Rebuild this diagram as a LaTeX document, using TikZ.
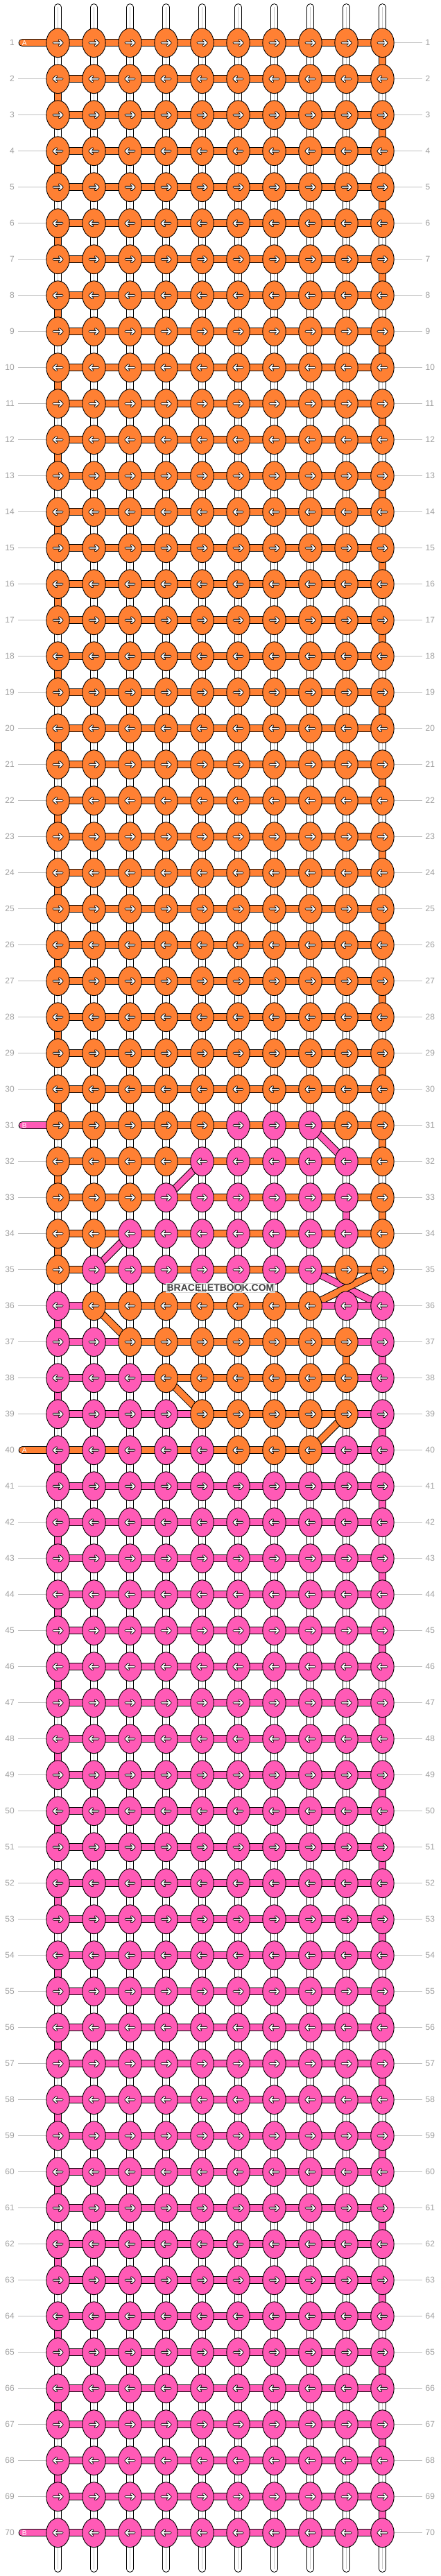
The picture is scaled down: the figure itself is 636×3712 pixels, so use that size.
\documentclass[tikz,border=0pt]{standalone}
\usepackage{fontspec}
\newfontfamily\lab{Liberation Sans}
\usetikzlibrary{shapes.geometric}
\definecolor{O}{RGB}{255,128,51}
\definecolor{P}{RGB}{255,90,182}
\definecolor{labgray}{RGB}{160,160,160}
\definecolor{linegray}{RGB}{192,192,192}
\definecolor{midgray}{RGB}{200,200,200}
\definecolor{wmgray}{RGB}{68,68,68}
\newcommand{\mixk}[2]{\foreach \kc [count=\ci] in {#2}{\node[knot, fill=\kc] (k-#1-\ci) at (p-#1-\ci) {};}}
\newcommand{\mixh}[2]{\foreach \kc [count=\ci] in {#2}{\pgfmathtruncatemacro\cn{\ci+1}\draw[hband=\kc] (p-#1-\ci) -- (p-#1-\cn);}}
\begin{document}
\begin{tikzpicture}[x=1pt,y=-1pt,
  knot/.style={ellipse, draw=black, line width=0.9pt, minimum width=33.4pt, minimum height=41.8pt, inner sep=0pt},
  hband/.style={draw=black, line width=1pt, double=#1, double distance=9pt},
  vcol/.style={draw=black, line width=1pt, double=#1, double distance=8.3pt},
  vwhite/.style={draw=black, line width=1pt, double=white, double distance=8.3pt},
  vmid/.style={draw=midgray, line width=0.8pt},
  arrowb/.style={draw=black, line width=3.6pt, line cap=round, line join=round},
  arroww/.style={draw=white, line width=1.7pt, line cap=round, line join=round},
  lbl/.style={font=\lab\fontsize{12}{14}\selectfont, text=labgray, inner sep=0pt},
  lblline/.style={draw=linegray, line width=0.9pt},
  tailtxt/.style={font=\lab\fontsize{10}{12}\selectfont, text=white, inner sep=0pt},
]
\fill[white] (0,0) rectangle (636,3712);
\useasboundingbox (0,0) rectangle (636,3712);
% grid coordinates
\foreach \ri in {1,...,70}{\foreach \ci in {1,...,10}{%
  \coordinate (p-\ri-\ci) at ({83.5+52*(\ci-1)},{61.7+52*(\ri-1)});}}
% top and bottom thread tails
\foreach \ci in {1,...,10}{%
  \coordinate (top-\ci) at ({83.5+52*(\ci-1)},10.3);
  \coordinate (bot-\ci) at ({83.5+52*(\ci-1)},3701.7);
  \draw[vwhite, line cap=round] (top-\ci) -- (p-1-\ci);
  \draw[vmid] (top-\ci) -- (p-1-\ci);
  \draw[vwhite, line cap=round] (p-70-\ci) -- (bot-\ci);
  \draw[vmid] (p-70-\ci) -- (bot-\ci);
}
% vertical connectors
\foreach \ri in {1,...,69}{%
  \pgfmathtruncatemacro\rn{\ri+1}%
  \ifnum\ri<35 \def\ec{O}\else\def\ec{P}\fi
  \foreach \ci in {1,...,10}{%
    \def\vc{W}%
    \ifnum\ci=1 \ifodd\ri\else\let\vc\ec\fi\fi
    \ifnum\ci=10 \ifodd\ri\let\vc\ec\fi\fi
    \ifnum\ri=35 \ifnum\ci=10 \def\vc{W}\fi\fi
    \ifnum\ri=33 \ifnum\ci=9 \def\vc{P}\fi\fi
    \ifnum\ri=37 \ifnum\ci=9 \def\vc{O}\fi\fi
    \if W\vc
      \draw[vwhite] (p-\ri-\ci) -- (p-\rn-\ci);
      \draw[vmid] (p-\ri-\ci) -- (p-\rn-\ci);
    \else
      \draw[vcol=\vc] (p-\ri-\ci) -- (p-\rn-\ci);
    \fi
  }
}
% diagonals
\draw[hband=P] (p-31-8) -- (p-32-9);
\draw[hband=P] (p-32-5) -- (p-33-4);
\draw[hband=P] (p-34-3) -- (p-35-2);
\draw[hband=P] (p-35-8) -- (p-36-10);
\draw[hband=O] (p-35-10) -- (p-36-8);
\draw[hband=O] (p-36-2) -- (p-37-3);
\draw[hband=O] (p-38-4) -- (p-39-5);
\draw[hband=O] (p-39-9) -- (p-40-8);
% horizontal connectors
\foreach \ri in {1,...,35}{\mixh{\ri}{O,O,O,O,O,O,O,O,O}}
\mixh{36}{P,O,O,O,O,O,O,P,P}
\mixh{37}{P,P,O,O,O,O,O,O,P}
\mixh{38}{P,P,P,O,O,O,O,O,P}
\mixh{39}{P,P,P,P,O,O,O,O,P}
\mixh{40}{O,O,O,O,O,O,O,P,P}
\foreach \ri in {41,...,70}{\mixh{\ri}{P,P,P,P,P,P,P,P,P}}
% left tails
\foreach \ri/\cl/\tx in {1/O/A, 31/P/B, 40/O/A, 70/P/B}{%
  \coordinate (t-\ri) at (32.2,{61.7+52*(\ri-1)});
  \draw[hband=\cl, line cap=round] (t-\ri) -- (p-\ri-1);
  \node[tailtxt] (tt-\ri) at (35.3,{61.7+52*(\ri-1)}) {\tx};
}
% knots
\foreach \ri in {1,...,30}{\mixk{\ri}{O,O,O,O,O,O,O,O,O,O}}
\mixk{31}{O,O,O,O,O,P,P,P,O,O}
\mixk{32}{O,O,O,O,P,P,P,P,P,O}
\mixk{33}{O,O,O,P,P,P,P,P,P,O}
\mixk{34}{O,O,P,P,P,P,P,P,P,O}
\mixk{35}{O,P,P,P,P,P,P,P,O,O}
\mixk{36}{P,O,O,O,O,O,O,O,P,P}
\mixk{37}{P,P,O,O,O,O,O,O,O,P}
\mixk{38}{P,P,P,O,O,O,O,O,O,P}
\mixk{39}{P,P,P,P,O,O,O,O,O,P}
\mixk{40}{P,P,P,P,P,O,O,O,P,P}
\foreach \ri in {41,...,70}{\mixk{\ri}{P,P,P,P,P,P,P,P,P,P}}
% arrows
\foreach \ri in {1,...,70}{%
  \ifodd\ri \def\dd{1}\else\def\dd{-1}\fi
  \foreach \ci in {1,...,10}{%
    \draw[arrowb, shift={(p-\ri-\ci)}, xscale=\dd] (-6.2,0) -- (6.2,0) (2.2,-3.8) -- (6.2,0) -- (2.2,3.8);
    \draw[arroww, shift={(p-\ri-\ci)}, xscale=\dd] (-6.2,0) -- (6.2,0) (2.2,-3.8) -- (6.2,0) -- (2.2,3.8);
  }
}
% row labels
\foreach \ri in {1,...,70}{%
  \pgfmathsetmacro\yy{61.7+52*(\ri-1)}
  \node[lbl, anchor=east] (ll-\ri) at (21,\yy) {\ri};
  \node[lbl, anchor=west] (lr-\ri) at (613.5,\yy) {\ri};
  \coordinate (re-\ri) at (609,\yy);
  \coordinate (le-\ri) at (26,\yy);
  \draw[lblline] (k-\ri-10.east) -- (re-\ri);
  \def\hastail{0}%
  \ifnum\ri=1 \def\hastail{1}\fi
  \ifnum\ri=31 \def\hastail{1}\fi
  \ifnum\ri=40 \def\hastail{1}\fi
  \ifnum\ri=70 \def\hastail{1}\fi
  \ifnum\hastail=0 \draw[lblline] (le-\ri) -- (k-\ri-1.west);\fi
}
% watermark
\node[font=\lab\bfseries\fontsize{14}{16}\selectfont, text=wmgray, fill=white, fill opacity=0.6, text opacity=1, draw=black!15, inner sep=1.2pt] (wm) at (318,1855.7) {BRACELETBOOK.COM};
\end{tikzpicture}
\end{document}
